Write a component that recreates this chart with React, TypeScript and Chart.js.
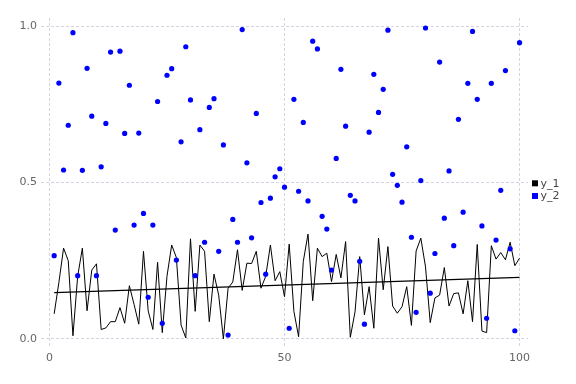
import React, { useEffect, useRef } from "react";
import { Chart, registerables } from "chart.js";

Chart.register(...registerables);

const xValues = [
  1, 2, 3, 4, 5, 6, 7, 8, 9, 10, 11, 12, 13, 14, 15, 16, 17, 18, 19, 20,
  21, 22, 23, 24, 25, 26, 27, 28, 29, 30, 31, 32, 33, 34, 35, 36, 37, 38, 39, 40,
  41, 42, 43, 44, 45, 46, 47, 48, 49, 50, 51, 52, 53, 54, 55, 56, 57, 58, 59, 60,
  61, 62, 63, 64, 65, 66, 67, 68, 69, 70, 71, 72, 73, 74, 75, 76, 77, 78, 79, 80,
  81, 82, 83, 84, 85, 86, 87, 88, 89, 90, 91, 92, 93, 94, 95, 96, 97, 98, 99, 100,
];

const y1Values = [
  0.08, 0.18, 0.29, 0.25, 0.01, 0.2, 0.29, 0.09, 0.22, 0.24,
  0.03, 0.035, 0.055, 0.055, 0.1, 0.05, 0.17, 0.11, 0.047, 0.28,
  0.09, 0.03, 0.245, 0.02, 0.2, 0.3, 0.26, 0.044, 0.003, 0.32,
  0.088, 0.3, 0.28, 0.055, 0.207, 0.14, 0.0, 0.162, 0.182, 0.285,
  0.155, 0.242, 0.241, 0.28, 0.162, 0.2, 0.3, 0.186, 0.215, 0.135,
  0.303, 0.088, 0.007, 0.248, 0.335, 0.122, 0.29, 0.263, 0.274, 0.183,
  0.27, 0.195, 0.311, 0.005, 0.086, 0.263, 0.077, 0.167, 0.034, 0.322,
  0.157, 0.295, 0.105, 0.082, 0.103, 0.167, 0.043, 0.281, 0.322, 0.23,
  0.052, 0.131, 0.14, 0.228, 0.105, 0.145, 0.147, 0.08, 0.186, 0.055,
  0.302, 0.025, 0.02, 0.298, 0.255, 0.276, 0.253, 0.309, 0.234, 0.258,
];

const y2Values = [
  0.266, 0.818, 0.54, 0.683, 0.979, 0.202, 0.539, 0.865, 0.712, 0.202,
  0.55, 0.689, 0.917, 0.348, 0.92, 0.657, 0.811, 0.364, 0.658, 0.401,
  0.133, 0.364, 0.759, 0.05, 0.843, 0.864, 0.252, 0.63, 0.934, 0.764,
  0.202, 0.669, 0.309, 0.74, 0.768, 0.28, 0.62, 0.012, 0.382, 0.309,
  0.989, 0.563, 0.323, 0.721, 0.436, 0.207, 0.45, 0.518, 0.544, 0.485,
  0.034, 0.766, 0.472, 0.692, 0.441, 0.952, 0.927, 0.392, 0.351, 0.22,
  0.577, 0.862, 0.68, 0.459, 0.441, 0.248, 0.047, 0.661, 0.846, 0.724,
  0.798, 0.987, 0.526, 0.491, 0.437, 0.614, 0.325, 0.085, 0.506, 0.994,
  0.146, 0.273, 0.885, 0.386, 0.537, 0.298, 0.702, 0.405, 0.817, 0.983,
  0.766, 0.361, 0.066, 0.817, 0.316, 0.475, 0.858, 0.288, 0.026, 0.947,
];

const xTicks = [0, 50, 100];
const yTicks = [0, 0.5, 1.0];
const seriesNames = ["y_1", "y_2"];
const seriesColors = ["#000000", "#0000ff"];

function fitTrend(xs: number[], ys: number[]) {
  const n = xs.length;
  let sx = 0, sy = 0, sxx = 0, sxy = 0;
  for (let i = 0; i < n; i++) {
    sx += xs[i];
    sy += ys[i];
    sxx += xs[i] * xs[i];
    sxy += xs[i] * ys[i];
  }
  const b = (n * sxy - sx * sy) / (n * sxx - sx * sx);
  const a = (sy - b * sx) / n;
  return [
    { x: xs[0], y: a + b * xs[0] },
    { x: xs[n - 1], y: a + b * xs[n - 1] },
  ];
}

const sideLegend = {
  id: "sideLegend",
  afterDraw(chart: any) {
    const { ctx, chartArea } = chart;
    const midY = (chartArea.top + chartArea.bottom) / 2;
    const boxSize = 6;
    const rowGap = 12.7;
    ctx.save();
    ctx.font = "11px 'DejaVu Sans'";
    ctx.textAlign = "left";
    ctx.textBaseline = "middle";
    seriesNames.forEach((name, i) => {
      const cy = midY + 0.8 + i * rowGap;
      const bx = chartArea.right + 4;
      ctx.fillStyle = seriesColors[i];
      ctx.fillRect(bx, cy - boxSize / 2, boxSize, boxSize);
      ctx.fillStyle = "#444444";
      ctx.fillText(name, bx + boxSize + 2.5, cy + 0.5);
    });
    ctx.restore();
  },
};

export default function App() {
  const ref = useRef<HTMLCanvasElement>(null);

  useEffect(() => {
    if (!ref.current) return;
    const trend = fitTrend(xValues, y1Values);
    const gridColor = "#d3d3e2";
    const tickFont = { family: "DejaVu Sans", size: 11 };

    const chart = new Chart(ref.current, {
      type: "scatter",
      data: {
        datasets: [
          {
            type: "line",
            label: seriesNames[0],
            data: xValues.map((x, i) => ({ x, y: y1Values[i] })),
            borderColor: seriesColors[0],
            backgroundColor: seriesColors[0],
            borderWidth: 1,
            pointRadius: 0,
            tension: 0,
            order: 2,
          },
          {
            type: "scatter",
            label: seriesNames[1],
            data: xValues.map((x, i) => ({ x, y: y2Values[i] })),
            backgroundColor: seriesColors[1],
            borderColor: seriesColors[1],
            borderWidth: 0,
            pointRadius: 2.6,
            order: 1,
          },
          {
            type: "line",
            label: "trend",
            data: trend,
            borderColor: "#000000",
            borderWidth: 1.3,
            pointRadius: 0,
            order: 3,
          },
        ],
      },
      options: {
        responsive: false,
        animation: false,
        layout: { padding: { top: 18, right: 48, left: 0, bottom: 0 } },
        scales: {
          x: {
            type: "linear",
            min: -1.8,
            max: 101.8,
            afterBuildTicks: (axis: any) => {
              axis.ticks = xTicks.map((v) => ({ value: v }));
            },
            afterFit: (scale: any) => {
              scale.height = 37;
            },
            grid: { color: gridColor, drawTicks: false, lineWidth: 1 },
            border: { display: false, dash: [3, 2] },
            ticks: {
              color: "#666666",
              font: tickFont,
              padding: 5,
              maxRotation: 0,
              callback: (v: any) => String(v),
            },
          },
          y: {
            type: "linear",
            min: -0.026,
            max: 1.026,
            afterBuildTicks: (axis: any) => {
              axis.ticks = yTicks.map((v) => ({ value: v }));
            },
            afterFit: (scale: any) => {
              scale.width = 41;
            },
            grid: { color: gridColor, drawTicks: false, lineWidth: 1 },
            border: { display: false, dash: [3, 2] },
            ticks: {
              color: "#666666",
              font: tickFont,
              padding: 4,
              callback: (v: any) => Number(v).toFixed(1),
            },
          },
        },
        plugins: {
          tooltip: { enabled: false },
          legend: { display: false },
        },
      },
      plugins: [sideLegend],
    });

    return () => chart.destroy();
  }, []);

  return (
    <div style={{ position: "absolute", left: 0, top: 0, width: 576, height: 384, background: "#ffffff" }}>
      <canvas ref={ref} width={576} height={384} style={{ display: "block" }} />
    </div>
  );
}
